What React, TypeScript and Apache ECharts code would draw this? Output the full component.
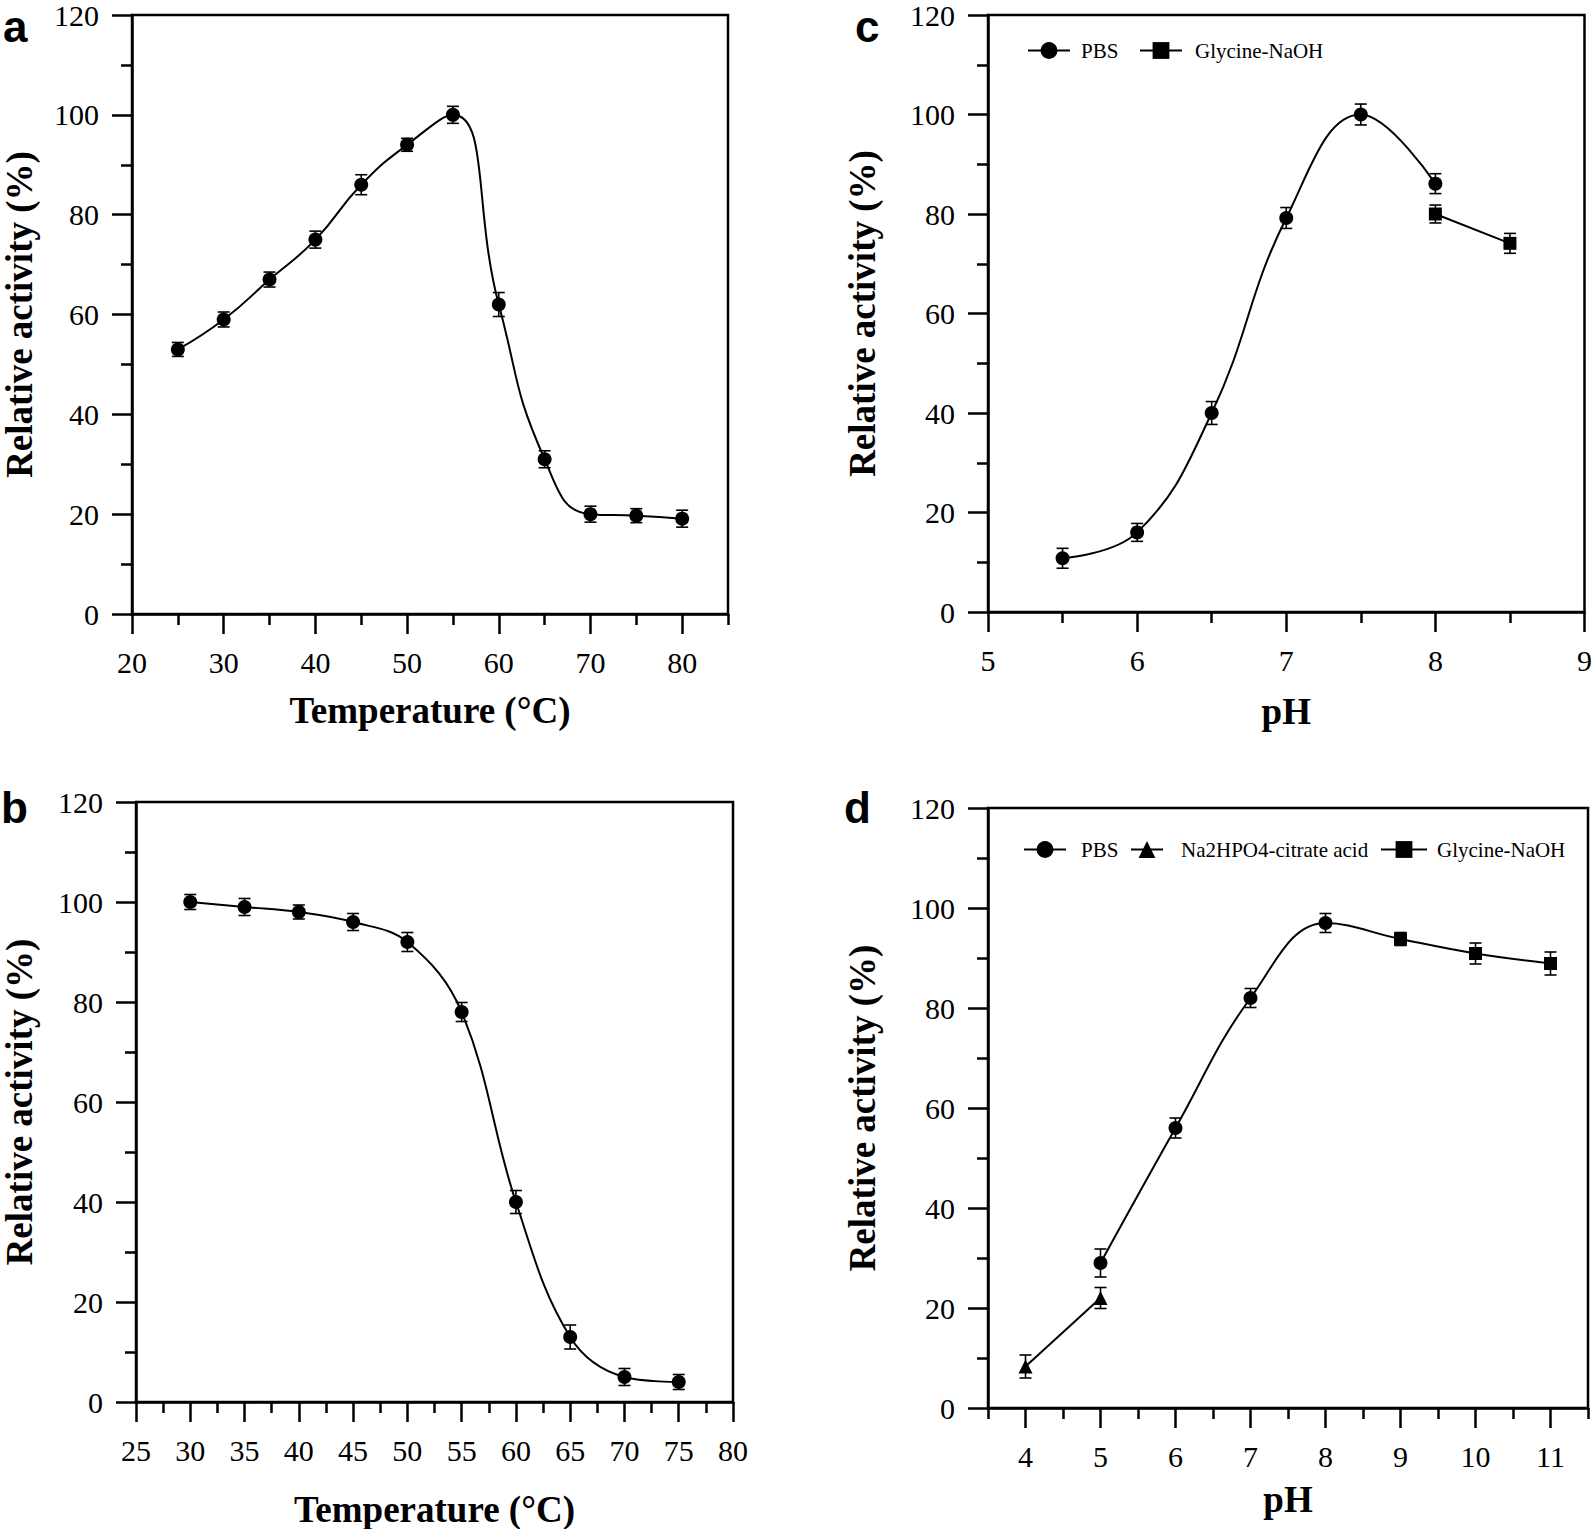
import React, { useEffect, useRef } from "react";
import * as echarts from "echarts";

const W = 1595;
const H = 1529;

// ---------- Panel a: temperature optimum ----------
const tempA = [25, 30, 35, 40, 45, 50, 55, 60, 65, 70, 75, 80];
const actA = [53, 59, 67, 75, 86, 94, 100, 62, 31, 20, 19.7, 19.1];
const errA = [1.4, 1.5, 1.5, 1.7, 2.0, 1.3, 1.7, 2.4, 1.7, 1.6, 1.4, 1.7];

// ---------- Panel b: thermal stability ----------
const tempB = [30, 35, 40, 45, 50, 55, 60, 65, 70, 75];
const actB = [100, 99, 98, 96, 92, 78, 40, 13, 5, 4];
const errB = [1.5, 1.7, 1.4, 1.7, 1.9, 1.9, 2.3, 2.4, 1.7, 1.5];

// ---------- Panel c: pH optimum ----------
const phC_PBS = [5.5, 6, 6.5, 7, 7.5, 8];
const actC_PBS = [10.8, 16, 40, 79.2, 100, 86.1];
const errC_PBS = [2.0, 1.8, 2.3, 2.1, 2.1, 2.0];
const phC_Gly = [8, 8.5];
const actC_Gly = [80, 74.1];
const errC_Gly = [1.8, 2.0];

// ---------- Panel d: pH stability ----------
const phD_PBS = [5, 6, 7, 8];
const actD_PBS = [29, 56, 82, 97];
const errD_PBS = [2.8, 2.0, 1.9, 1.9];
const phD_Na = [4, 5];
const actD_Na = [8.3, 22];
const errD_Na = [2.3, 2.1];
const phD_Gly = [9, 10, 11];
const actD_Gly = [93.8, 90.9, 88.9];
const errD_Gly = [1.3, 2.1, 2.3];

// ---------- tick values ----------
const aXMajor = [20, 30, 40, 50, 60, 70, 80];
const aXMinor = [25, 35, 45, 55, 65, 75, 85];
const dXMajor = [4, 5, 6, 7, 8, 9, 10, 11];
const dXMinor = [3.5, 4.5, 5.5, 6.5, 7.5, 8.5, 9.5, 10.5, 11.5];

const yTitle = "Relative activity (%)";
const tTitle = "Temperature (°C)";
const pTitle = "pH";
const panelLetters = ["a", "b", "c", "d"];

const serif = '"Liberation Serif", "Times New Roman", serif';
const sans = '"Liberation Sans", Arial, sans-serif';

const axisLine = { show: true, onZero: false, lineStyle: { color: "#000", width: 2.5 } };
const majorTick = { show: true, inside: false, length: 20, lineStyle: { color: "#000", width: 2.5 } };
const minorTickCfg = { show: true, splitNumber: 2, length: 11, lineStyle: { color: "#000", width: 2.5 } };
const tickLabel = { show: true, color: "#000", fontFamily: serif, fontSize: 30 };
const titleStyle = { fontFamily: serif, fontWeight: "bold" as const, fontSize: 37, color: "#000" };

function yAxis(gridIndex: number, nameGap: number) {
  return {
    type: "value",
    gridIndex,
    min: 0,
    max: 120,
    interval: 20,
    name: yTitle,
    nameLocation: "middle",
    nameGap,
    nameTextStyle: titleStyle,
    axisLine,
    axisTick: majorTick,
    minorTick: minorTickCfg,
    axisLabel: { ...tickLabel, margin: 33 },
    splitLine: { show: false },
    minorSplitLine: { show: false },
  };
}

function pairs(xs: number[], ys: number[]) {
  return xs.map((x, i) => [x, ys[i]]);
}

function errSeries(xs: number[], ys: number[], es: number[], idx: number, name: string) {
  return {
    type: "custom",
    name,
    xAxisIndex: idx,
    yAxisIndex: idx,
    silent: true,
    z: 2,
    data: xs.map((x, i) => [x, ys[i] - es[i], ys[i] + es[i]]),
    encode: { x: 0, y: [1, 2] },
    renderItem: (_params: any, api: any) => {
      const lo = api.coord([api.value(0), api.value(1)]);
      const hi = api.coord([api.value(0), api.value(2)]);
      const w = 6;
      const style = { stroke: "#000", lineWidth: 1.6 };
      return {
        type: "group",
        children: [
          { type: "line", shape: { x1: lo[0], y1: lo[1], x2: hi[0], y2: hi[1] }, style },
          { type: "line", shape: { x1: lo[0] - w, y1: lo[1], x2: lo[0] + w, y2: lo[1] }, style },
          { type: "line", shape: { x1: hi[0] - w, y1: hi[1], x2: hi[0] + w, y2: hi[1] }, style },
        ],
      };
    },
  };
}

function lineSeries(name: string, data: any[], idx: number, symbol: string, smooth: number | boolean, size = 14) {
  return {
    type: "line",
    name,
    xAxisIndex: idx,
    yAxisIndex: idx,
    data,
    smooth,
    symbol,
    symbolSize: size,
    showSymbol: true,
    itemStyle: { color: "#000" },
    lineStyle: { color: "#000", width: 2 },
    z: 3,
  };
}

function legendItem(name: string, left: number, top: number, itemWidth: number, padLeft: number) {
  return {
    show: true,
    data: [name],
    left,
    top,
    orient: "horizontal",
    padding: 0,
    itemWidth,
    itemHeight: 21,
    selectedMode: false,
    textStyle: { color: "#000", fontFamily: serif, fontSize: 21, padding: [0, 0, 0, padLeft] },
    itemStyle: { color: "#000" },
    lineStyle: { color: "#000", width: 2, opacity: 1 },
  };
}

function letter(text: string, x: number, y: number) {
  return {
    type: "text",
    x,
    y,
    style: { text, font: `bold 44px ${sans}`, fill: "#000", verticalAlign: "bottom" },
  };
}

function buildOption() {
  const dPBSData = [
    ...pairs(phD_PBS, actD_PBS),
    ...phD_Gly.map((x, i) => ({ value: [x, actD_Gly[i]], symbol: "none", symbolSize: 0 })),
  ];
  const gridBox = { show: true, borderColor: "#000", borderWidth: 2.5, backgroundColor: "transparent" };
  return {
    animation: false,
    backgroundColor: "#fff",
    grid: [
      { left: 128, top: 15, width: 600, height: 599, ...gridBox },
      { left: 132, top: 802, width: 601, height: 600, ...gridBox },
      { left: 988, top: 12, width: 600, height: 600, ...gridBox },
      { left: 988, top: 808, width: 600, height: 600, ...gridBox },
    ],
    xAxis: [
      {
        type: "value", gridIndex: 0, min: 20, max: 85, position: "bottom",
        name: tTitle, nameLocation: "middle", nameGap: 78, nameTextStyle: titleStyle,
        axisLine, axisTick: { ...majorTick, customValues: aXMajor },
        axisLabel: { ...tickLabel, margin: 33, customValues: aXMajor },
        splitLine: { show: false },
      },
      {
        type: "value", gridIndex: 1, min: 25, max: 80, interval: 5, position: "bottom",
        name: tTitle, nameLocation: "middle", nameGap: 89, nameTextStyle: titleStyle,
        axisLine, axisTick: majorTick, minorTick: minorTickCfg,
        axisLabel: { ...tickLabel, margin: 33 },
        splitLine: { show: false }, minorSplitLine: { show: false },
      },
      {
        type: "value", gridIndex: 2, min: 5, max: 9, interval: 1, position: "bottom",
        name: pTitle, nameLocation: "middle", nameGap: 81, nameTextStyle: titleStyle,
        axisLine, axisTick: majorTick, minorTick: minorTickCfg,
        axisLabel: { ...tickLabel, margin: 33 },
        splitLine: { show: false }, minorSplitLine: { show: false },
      },
      {
        type: "value", gridIndex: 3, min: 3.5, max: 11.5, position: "bottom",
        name: pTitle, nameLocation: "middle", nameGap: 73, nameTextStyle: titleStyle,
        axisLine, axisTick: { ...majorTick, customValues: dXMajor },
        axisLabel: { ...tickLabel, margin: 33, customValues: dXMajor },
        splitLine: { show: false },
      },
      {
        type: "value", gridIndex: 0, min: 20, max: 85, position: "bottom",
        axisLine: { show: false },
        axisTick: { show: true, inside: false, length: 11, customValues: aXMinor, lineStyle: { color: "#000", width: 2.5 } },
        axisLabel: { show: false }, splitLine: { show: false },
      },
      {
        type: "value", gridIndex: 3, min: 3.5, max: 11.5, position: "bottom",
        axisLine: { show: false },
        axisTick: { show: true, inside: false, length: 11, customValues: dXMinor, lineStyle: { color: "#000", width: 2.5 } },
        axisLabel: { show: false }, splitLine: { show: false },
      },
    ],
    yAxis: [yAxis(0, 94), yAxis(1, 98), yAxis(2, 107), yAxis(3, 107)],
    legend: [
      legendItem("PBS", 1027, 40, 42, 6),
      legendItem("Glycine-NaOH", 1139, 40, 42, 8),
      legendItem("PBS", 1023, 839, 42, 10),
      legendItem("Na2HPO4-citrate acid", 1130, 839, 32, 13),
      legendItem("Glycine-NaOH", 1380, 839, 46, 5),
    ],
    series: [
      // c first so that legend icons use these
      lineSeries("PBS", pairs(phC_PBS, actC_PBS), 2, "circle", 0.42),
      lineSeries("Glycine-NaOH", pairs(phC_Gly, actC_Gly), 2, "rect", false, 13),
      errSeries(phC_PBS, actC_PBS, errC_PBS, 2, "err c PBS"),
      errSeries(phC_Gly, actC_Gly, errC_Gly, 2, "err c Gly"),
      // a
      lineSeries("Temperature optimum", pairs(tempA, actA), 0, "circle", 0.5),
      errSeries(tempA, actA, errA, 0, "err a"),
      // b
      lineSeries("Thermal stability", pairs(tempB, actB), 1, "circle", 0.38),
      errSeries(tempB, actB, errB, 1, "err b"),
      // d
      lineSeries("PBS", dPBSData, 3, "circle", 0.4),
      lineSeries("Na2HPO4-citrate acid", pairs(phD_Na, actD_Na), 3, "triangle", false, 14),
      { ...lineSeries("Glycine-NaOH", pairs(phD_Gly, actD_Gly), 3, "rect", 0.4, 13), lineStyle: { color: "#000", width: 2, opacity: 0 } },
      errSeries(phD_PBS, actD_PBS, errD_PBS, 3, "err d PBS"),
      errSeries(phD_Na, actD_Na, errD_Na, 3, "err d Na"),
      errSeries(phD_Gly, actD_Gly, errD_Gly, 3, "err d Gly"),
    ],
    graphic: [
      letter(panelLetters[0], 3, 48),
      letter(panelLetters[1], 1, 829),
      letter(panelLetters[2], 855, 48),
      letter(panelLetters[3], 844, 829),
    ],
  };
}

export default function App() {
  const ref = useRef<HTMLDivElement>(null);
  useEffect(() => {
    document.body.style.margin = "0";
    if (!ref.current) return;
    const chart = echarts.init(ref.current, null, { renderer: "svg", width: W, height: H });
    chart.setOption(buildOption() as any);
    return () => chart.dispose();
  }, []);
  return <div ref={ref} style={{ width: W, height: H }} />;
}
